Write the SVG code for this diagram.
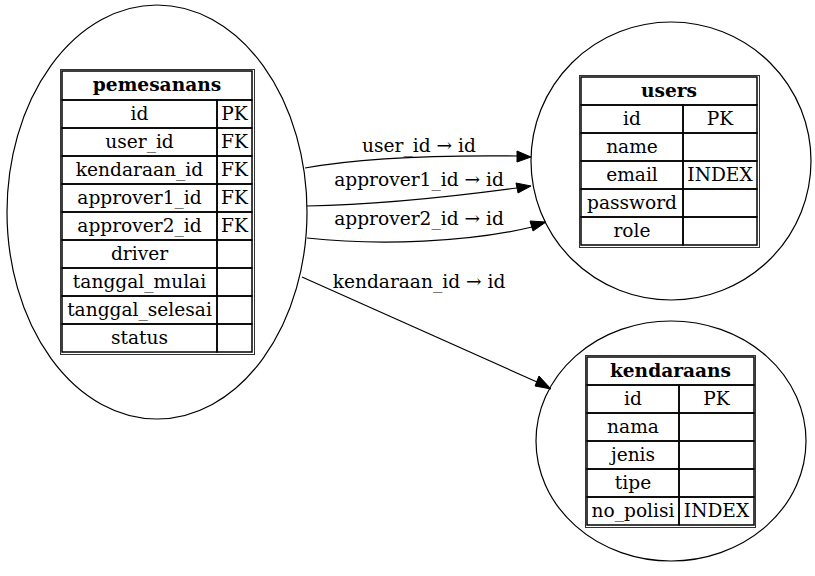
<svg xmlns="http://www.w3.org/2000/svg" width="815" height="576" viewBox="0 0 815 576">
<style>
text{font-family:"DejaVu Serif","Liberation Serif",serif;font-size:18.6px;fill:#000;text-anchor:middle}
.h{font-weight:bold}
.node ellipse{fill:none;stroke:#000;stroke-width:1.2}
.outer{fill:none;stroke:#000;stroke-width:1;opacity:0.8}
.cell{fill:none;stroke:#000;stroke-width:1.5}
.edges path{fill:none;stroke:#000;stroke-width:1.2}
.edges polygon{fill:#000;stroke:#000}
</style>
<rect width="815" height="576" fill="#fff"/>
<g class="edges">
<path d="M305,168 C360,158 430,155 517,156"/>
<polygon points="517,151 531,157 517,162"/>
<text x="419" y="152">user_id → id</text>
<path d="M307,206 C370,205 450,197 517,188"/>
<polygon points="516,183 531,186 518,193"/>
<text x="419" y="186">approver1_id → id</text>
<path d="M307,238 C380,246 470,242 532,227"/>
<polygon points="530,221 546,222 533,231"/>
<text x="419" y="225">approver2_id → id</text>
<path d="M302,277 L537,382"/>
<polygon points="539,376 551,389 535,386"/>
<text x="419" y="288">kendaraan_id → id</text>
</g>
<g id="pemesanans" class="node">
<ellipse cx="157" cy="212" rx="150" ry="207"/>
<rect class="outer" x="60.5" y="69.5" width="194" height="285"/>
<rect class="cell" x="62" y="71" width="190" height="29"/>
<g>
<rect class="cell" x="62" y="100" width="155" height="28"/><rect class="cell" x="217" y="100" width="35" height="28"/>
<rect class="cell" x="62" y="128" width="155" height="28"/><rect class="cell" x="217" y="128" width="35" height="28"/>
<rect class="cell" x="62" y="156" width="155" height="28"/><rect class="cell" x="217" y="156" width="35" height="28"/>
<rect class="cell" x="62" y="184" width="155" height="28"/><rect class="cell" x="217" y="184" width="35" height="28"/>
<rect class="cell" x="62" y="212" width="155" height="28"/><rect class="cell" x="217" y="212" width="35" height="28"/>
<rect class="cell" x="62" y="240" width="155" height="28"/><rect class="cell" x="217" y="240" width="35" height="28"/>
<rect class="cell" x="62" y="268" width="155" height="28"/><rect class="cell" x="217" y="268" width="35" height="28"/>
<rect class="cell" x="62" y="296" width="155" height="28"/><rect class="cell" x="217" y="296" width="35" height="28"/>
<rect class="cell" x="62" y="324" width="155" height="28"/><rect class="cell" x="217" y="324" width="35" height="28"/>
</g>
<text class="h" x="157" y="91">pemesanans</text>
<text x="139.5" y="120">id</text><text x="234.5" y="120">PK</text>
<text x="139.5" y="148">user_id</text><text x="234.5" y="148">FK</text>
<text x="139.5" y="176">kendaraan_id</text><text x="234.5" y="176">FK</text>
<text x="139.5" y="204">approver1_id</text><text x="234.5" y="204">FK</text>
<text x="139.5" y="232">approver2_id</text><text x="234.5" y="232">FK</text>
<text x="139.5" y="260">driver</text>
<text x="139.5" y="288">tanggal_mulai</text>
<text x="139.5" y="316">tanggal_selesai</text>
<text x="139.5" y="344">status</text>
</g>
<g id="users" class="node">
<ellipse cx="671" cy="161" rx="140" ry="139"/>
<rect class="outer" x="579.5" y="75.5" width="180" height="172"/>
<rect class="cell" x="581" y="77" width="176" height="28"/>
<rect class="cell" x="581" y="105" width="102" height="28"/><rect class="cell" x="683" y="105" width="74" height="28"/>
<rect class="cell" x="581" y="133" width="102" height="28"/><rect class="cell" x="683" y="133" width="74" height="28"/>
<rect class="cell" x="581" y="161" width="102" height="28"/><rect class="cell" x="683" y="161" width="74" height="28"/>
<rect class="cell" x="581" y="189" width="102" height="28"/><rect class="cell" x="683" y="189" width="74" height="28"/>
<rect class="cell" x="581" y="217" width="102" height="28"/><rect class="cell" x="683" y="217" width="74" height="28"/>
<text class="h" x="669" y="97">users</text>
<text x="632" y="125">id</text><text x="720" y="125">PK</text>
<text x="632" y="153">name</text>
<text x="632" y="181">email</text><text x="720" y="181">INDEX</text>
<text x="632" y="209">password</text>
<text x="632" y="237">role</text>
</g>
<g id="kendaraans" class="node">
<ellipse cx="671" cy="441" rx="135" ry="120"/>
<rect class="outer" x="585.5" y="355.5" width="170" height="172"/>
<rect class="cell" x="587" y="357" width="167" height="28"/>
<rect class="cell" x="587" y="385" width="92" height="28"/><rect class="cell" x="679" y="385" width="75" height="28"/>
<rect class="cell" x="587" y="413" width="92" height="28"/><rect class="cell" x="679" y="413" width="75" height="28"/>
<rect class="cell" x="587" y="441" width="92" height="28"/><rect class="cell" x="679" y="441" width="75" height="28"/>
<rect class="cell" x="587" y="469" width="92" height="28"/><rect class="cell" x="679" y="469" width="75" height="28"/>
<rect class="cell" x="587" y="497" width="92" height="28"/><rect class="cell" x="679" y="497" width="75" height="28"/>
<text class="h" x="670.5" y="377">kendaraans</text>
<text x="633" y="405">id</text><text x="716.5" y="405">PK</text>
<text x="633" y="433">nama</text>
<text x="633" y="461">jenis</text>
<text x="633" y="489">tipe</text>
<text x="633" y="517">no_polisi</text><text x="716.5" y="517">INDEX</text>
</g>
</svg>
